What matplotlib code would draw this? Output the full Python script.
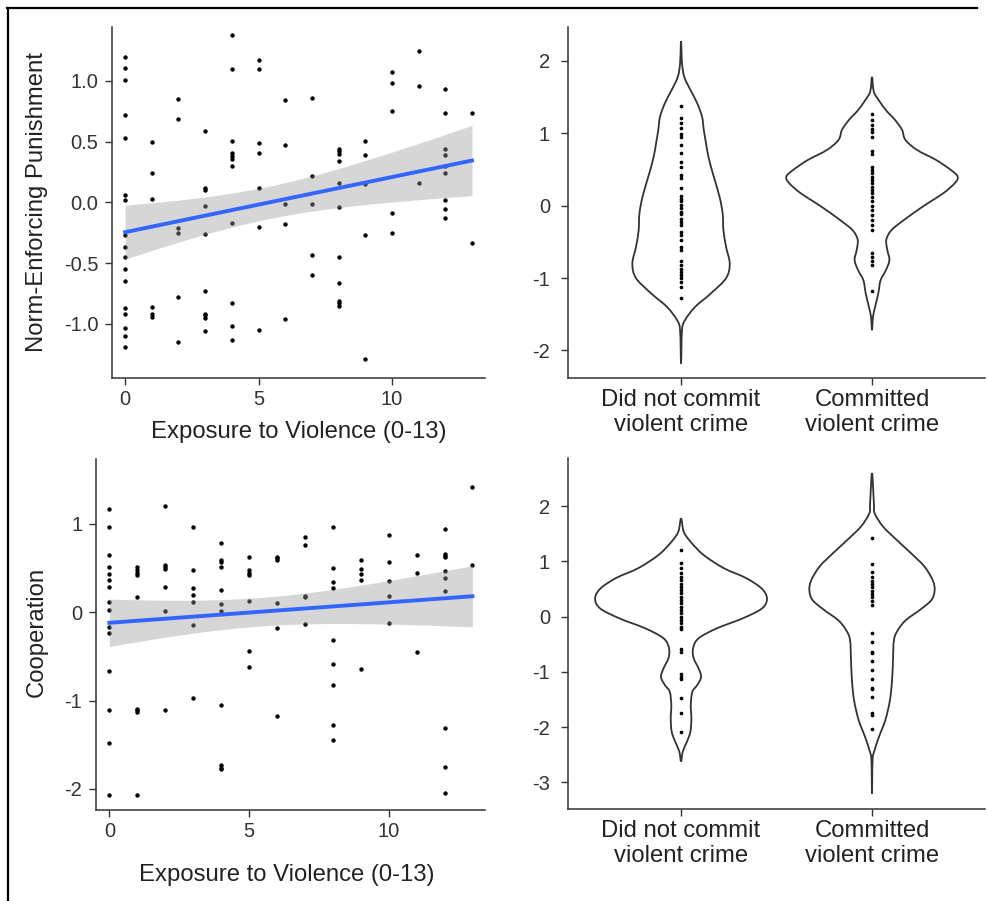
import numpy as np
import matplotlib
matplotlib.use('Agg')
import matplotlib.pyplot as plt
from matplotlib.lines import Line2D
from matplotlib.path import Path
from matplotlib.patches import PathPatch

plt.rcParams['font.family'] = ['Liberation Sans', 'DejaVu Sans']
plt.rcParams['axes.unicode_minus'] = False

# ---- scatter data (exposure to violence vs outcome) ----
pun_x = [
    0, 0, 0, 0, 0, 0, 0, 0, 0, 0, 0, 0, 0, 0, 0, 0, 0,
    1, 1, 1, 1, 1, 1,
    2, 2, 2, 2, 2, 2,
    3, 3, 3, 3, 3, 3, 3, 3, 3, 3,
    4, 4, 4, 4, 4, 4, 4, 4, 4, 4, 4,
    5, 5, 5, 5, 5, 5, 5,
    6, 6, 6, 6, 6,
    7, 7, 7, 7, 7,
    8, 8, 8, 8, 8, 8, 8, 8, 8, 8, 8,
    9, 9, 9, 9, 9,
    10, 10, 10, 10, 10,
    11, 11, 11,
    12, 12, 12, 12, 12, 12, 12, 12, 12,
    13, 13]
pun_y = [
    1.20, 1.11, 1.01, 0.72, 0.53, 0.06, 0.02, -0.27, -0.37, -0.45, -0.55, -0.65, -0.87, -0.92, -1.03, -1.10, -1.19,
    0.50, 0.24, 0.03, -0.86, -0.92, -0.94,
    0.85, 0.69, -0.21, -0.25, -0.78, -1.15,
    0.59, 0.12, 0.10, -0.03, -0.26, -0.73, -0.92, -0.93, -0.95, -1.06,
    1.38, 1.10, 0.51, 0.41, 0.38, 0.36, 0.30, -0.17, -0.83, -1.02, -1.13,
    1.17, 1.10, 0.49, 0.41, 0.12, -0.20, -1.05,
    0.84, 0.47, -0.01, -0.18, -0.96,
    0.86, 0.22, -0.01, -0.43, -0.60,
    0.44, 0.42, 0.40, 0.34, 0.16, -0.04, -0.45, -0.66, -0.81, -0.83, -0.85,
    0.51, 0.39, 0.15, -0.27, -1.29,
    1.07, 0.98, 0.75, -0.09, -0.25,
    1.25, 0.96, 0.16,
    0.93, 0.74, 0.44, 0.39, 0.30, 0.24, 0.02, -0.05, -0.13,
    0.74, -0.33]

coop_x = [
    0, 0, 0, 0, 0, 0, 0, 0, 0, 0, 0, 0, 0, 0, 0,
    1, 1, 1, 1, 1, 1, 1, 1, 1,
    2, 2, 2, 2, 2, 2, 2,
    3, 3, 3, 3, 3, 3, 3,
    4, 4, 4, 4, 4, 4, 4, 4, 4, 4, 4,
    5, 5, 5, 5, 5, 5, 5,
    6, 6, 6, 6, 6, 6,
    7, 7, 7, 7, 7,
    8, 8, 8, 8, 8, 8, 8, 8, 8,
    9, 9, 9, 9, 9,
    10, 10, 10, 10, 10,
    11, 11, 11,
    12, 12, 12, 12, 12, 12, 12, 12, 12, 12,
    13, 13]
coop_y = [
    1.17, 0.96, 0.65, 0.51, 0.43, 0.37, 0.29, 0.12, 0.03, -0.17, -0.23, -0.67, -1.11, -1.48, -2.07,
    0.51, 0.48, 0.45, 0.42, 0.17, -1.09, -1.11, -1.13, -2.07,
    1.20, 0.54, 0.51, 0.49, 0.29, 0.02, -1.11,
    0.96, 0.48, 0.28, 0.20, 0.12, -0.14, -0.97,
    0.79, 0.59, 0.57, 0.51, 0.25, 0.09, 0.02, -1.05, -1.73, -1.76, -1.78,
    0.63, 0.48, 0.45, 0.42, 0.13, -0.44, -0.62,
    0.63, 0.61, 0.59, 0.10, -0.18, -1.17,
    0.85, 0.76, 0.18, 0.17, -0.13,
    0.97, 0.50, 0.34, 0.28, -0.31, -0.59, -0.82, -1.28, -1.45,
    0.59, 0.49, 0.43, 0.37, -0.64,
    0.87, 0.57, 0.35, 0.18, -0.12,
    0.65, 0.45, -0.45,
    0.94, 0.66, 0.64, 0.63, 0.47, 0.39, 0.24, -1.31, -1.75, -2.05,
    1.42, 0.54]

# ---- violin groups ----
groups = ['Did not commit\nviolent crime', 'Committed\nviolent crime']

pun_nonviolent = [1.38, 1.21, 1.14, 1.08, 0.99, 0.95, 0.84, 0.73, 0.60, 0.53, 0.42, 0.38, 0.24,
                  0.13, 0.09, 0.06, 0.01, -0.03, -0.08, -0.12, -0.18, -0.22, -0.27, -0.36,
                  -0.41, -0.47, -0.57, -0.61, -0.77, -0.82, -0.87, -0.91, -0.96, -1.00,
                  -1.05, -1.12, -1.28]
pun_violent = [1.27, 1.18, 1.11, 1.06, 1.02, 0.95, 0.76, 0.72, 0.54, 0.49, 0.45, 0.40, 0.36,
               0.31, 0.26, 0.22, 0.17, 0.12, 0.06, -0.01, -0.06, -0.13, -0.20, -0.27, -0.34,
               -0.65, -0.71, -0.76, -0.82, -1.18]
coop_nonviolent = [1.21, 0.97, 0.88, 0.79, 0.72, 0.66, 0.60, 0.54, 0.48, 0.42, 0.36, 0.30,
                   0.24, 0.18, 0.12, 0.06, 0.00, -0.06, -0.12, -0.18, -0.22, -0.59, -0.63,
                   -1.04, -1.09, -1.13, -1.48, -1.74, -2.08]
coop_violent = [1.42, 0.95, 0.80, 0.71, 0.65, 0.59, 0.53, 0.47, 0.41, 0.35, 0.29, 0.21,
                -0.30, -0.45, -0.63, -0.66, -0.81, -0.97, -1.12, -1.29, -1.31, -1.46,
                -1.75, -1.78, -2.04]

# violin outlines: y level and half width (category units)
pun_nv_outline_y = [2.27, 1.97, 1.78, 1.60, 1.42, 1.23, 1.05, 0.86, 0.68, 0.45, 0.13, -0.11,
                    -0.34, -0.57, -0.80, -1.00, -1.21, -1.40, -1.58, -1.72, -2.18]
pun_nv_outline_w = [0.0, 0.005, 0.017, 0.049, 0.084, 0.110, 0.119, 0.131, 0.143, 0.166, 0.201,
                    0.218, 0.222, 0.236, 0.255, 0.236, 0.157, 0.073, 0.021, 0.005, 0.0]
pun_v_outline_y = [1.78, 1.58, 1.46, 1.32, 1.19, 1.05, 0.91, 0.77, 0.63, 0.49, 0.40, 0.31,
                   0.17, -0.01, -0.20, -0.34, -0.47, -0.61, -0.75, -0.89, -1.03, -1.21,
                   -1.40, -1.54, -1.72]
pun_v_outline_w = [0.0, 0.009, 0.035, 0.073, 0.119, 0.157, 0.175, 0.236, 0.337, 0.415, 0.449,
                   0.433, 0.372, 0.267, 0.166, 0.101, 0.075, 0.080, 0.091, 0.073, 0.045,
                   0.033, 0.016, 0.005, 0.0]
coop_nv_outline_y = [1.78, 1.54, 1.36, 1.12, 0.88, 0.70, 0.51, 0.33, 0.15, -0.03, -0.21,
                     -0.39, -0.57, -0.75, -0.93, -1.09, -1.24, -1.36, -1.60, -1.84, -2.08,
                     -2.26, -2.44, -2.62]
coop_nv_outline_w = [0.0, 0.014, 0.049, 0.117, 0.223, 0.340, 0.422, 0.450, 0.424, 0.323,
                     0.188, 0.092, 0.063, 0.066, 0.091, 0.105, 0.084, 0.059, 0.051, 0.054,
                     0.049, 0.031, 0.009, 0.0]
coop_v_outline_y = [2.60, 2.05, 1.87, 1.63, 1.39, 1.15, 0.91, 0.66, 0.48, 0.30, 0.12, -0.06,
                    -0.24, -0.42, -0.78, -1.15, -1.51, -1.87, -2.17, -2.41, -2.59, -3.20]
coop_v_outline_w = [0.0, 0.010, 0.014, 0.058, 0.129, 0.204, 0.274, 0.318, 0.328, 0.311,
                    0.250, 0.178, 0.136, 0.115, 0.110, 0.105, 0.094, 0.070, 0.037, 0.014,
                    0.003, 0.0]

AX_COL = '#333333'
TXT_COL = '#333333'
LBL_COL = '#222222'
TICK_SIZE = 14.5
LABEL_SIZE = 17.2


def style_axes(ax):
    for side in ['top', 'right']:
        ax.spines[side].set_visible(False)
    for side in ['left', 'bottom']:
        ax.spines[side].set_color(AX_COL)
        ax.spines[side].set_linewidth(1.1)
    ax.tick_params(colors=AX_COL, labelcolor=TXT_COL, labelsize=TICK_SIZE, length=5, width=1.0)
    ax.tick_params(axis='y', pad=5)
    ax.tick_params(axis='x', pad=4)


def scatter_panel(ax, x, y, t_crit=1.984):
    x = np.asarray(x, float)
    y = np.asarray(y, float)
    ax.scatter(x, y, s=10, color='black', linewidths=0, zorder=2)
    slope, intercept = np.polyfit(x, y, 1)
    n = len(x)
    resid = y - (intercept + slope * x)
    s = np.sqrt(np.sum(resid ** 2) / (n - 2))
    xs = np.linspace(x.min(), x.max(), 80)
    se = s * np.sqrt(1.0 / n + (xs - x.mean()) ** 2 / np.sum((x - x.mean()) ** 2))
    fit = intercept + slope * xs
    ax.fill_between(xs, fit - t_crit * se, fit + t_crit * se, color='#999999', alpha=0.4,
                    linewidth=0, zorder=3)
    ax.plot(xs, fit, color='#3366FF', linewidth=2.8, zorder=4)
    ax.set_xticks([0, 5, 10])
    style_axes(ax)


def smooth_outline(pts):
    # closed Catmull-Rom curve through the read outline points, as cubic Bezier path
    n = len(pts)
    verts = [pts[0]]
    codes = [Path.MOVETO]
    for i in range(n):
        p0, p1, p2, p3 = pts[i - 1], pts[i], pts[(i + 1) % n], pts[(i + 2) % n]
        c1 = p1 + (p2 - p0) / 6.0
        c2 = p2 - (p3 - p1) / 6.0
        verts += [c1, c2, p2]
        codes += [Path.CURVE4] * 3
    return Path(np.array(verts), codes)


def violin_panel(ax, outlines, points):
    for pos, (oy, ow) in enumerate(outlines):
        oy = np.asarray(oy, float)
        ow = np.asarray(ow, float)
        right = np.column_stack([pos + ow, oy])
        left = np.column_stack([pos - ow, oy])[::-1][1:-1]
        pts = np.vstack([right, left])
        ax.add_patch(PathPatch(smooth_outline(pts), facecolor='white', edgecolor=AX_COL,
                               linewidth=1.3, zorder=2))
    for pos, vals in enumerate(points):
        ax.scatter([pos] * len(vals), vals, s=7, color='black', linewidths=0, zorder=3)
    ax.set_xticks([0, 1])
    ax.set_xticklabels(groups, color=LBL_COL, linespacing=1.15)
    ax.set_xlim(-0.592, 1.592)
    style_axes(ax)
    ax.tick_params(axis='x', labelsize=LABEL_SIZE, labelcolor=LBL_COL, pad=3)


fig = plt.figure(figsize=(9.88, 9.01), dpi=100)

ax1 = fig.add_axes([0.1134, 0.5805, 0.3775, 0.3896])
scatter_panel(ax1, pun_x, pun_y)
ax1.set_xlim(-0.49, 13.49)
ax1.set_ylim(-1.445, 1.445)
ax1.set_yticks([-1.0, -0.5, 0.0, 0.5, 1.0])
ax1.set_yticklabels(['-1.0', '-0.5', '0.0', '0.5', '1.0'])
ax1.set_xlabel('Exposure to Violence (0-13)', fontsize=LABEL_SIZE, color=LBL_COL, va='center')
ax1.xaxis.set_label_coords(0.50, -0.154)
ax1.set_ylabel('Norm-Enforcing Punishment', fontsize=LABEL_SIZE, color=LBL_COL, va='center')
ax1.yaxis.set_label_coords(-0.201, 0.50)

ax2 = fig.add_axes([0.5749, 0.5805, 0.4221, 0.3896])
violin_panel(ax2, [(pun_nv_outline_y, pun_nv_outline_w), (pun_v_outline_y, pun_v_outline_w)],
             [pun_nonviolent, pun_violent])
ax2.set_ylim(-2.38, 2.47)
ax2.set_yticks([-2, -1, 0, 1, 2])
ax2.tick_params(axis='y', pad=8)

ax3 = fig.add_axes([0.0972, 0.1010, 0.3937, 0.3896])
scatter_panel(ax3, coop_x, coop_y)
ax3.set_xlim(-0.476, 13.45)
ax3.set_ylim(-2.239, 1.736)
ax3.set_yticks([-2, -1, 0, 1])
ax3.set_xlabel('Exposure to Violence (0-13)', fontsize=LABEL_SIZE, color=LBL_COL, va='center')
ax3.xaxis.set_label_coords(0.49, -0.185)
ax3.set_ylabel('Cooperation', fontsize=LABEL_SIZE, color=LBL_COL, va='center')
ax3.yaxis.set_label_coords(-0.152, 0.506)

ax4 = fig.add_axes([0.5749, 0.1021, 0.4221, 0.3896])
violin_panel(ax4, [(coop_nv_outline_y, coop_nv_outline_w), (coop_v_outline_y, coop_v_outline_w)],
             [coop_nonviolent, coop_violent])
ax4.set_ylim(-3.48, 2.872)
ax4.set_yticks([-3, -2, -1, 0, 1, 2])
ax4.tick_params(axis='y', pad=8)

# frame lines along the top and left edge of the image
fig.add_artist(Line2D([7 / 988, 977 / 988], [1 - 8 / 901, 1 - 8 / 901], color='black', linewidth=1.6))
fig.add_artist(Line2D([8 / 988, 8 / 988], [1 - 8 / 901, 0], color='black', linewidth=1.6))

fig.savefig('out.png', dpi=100, facecolor='white')
